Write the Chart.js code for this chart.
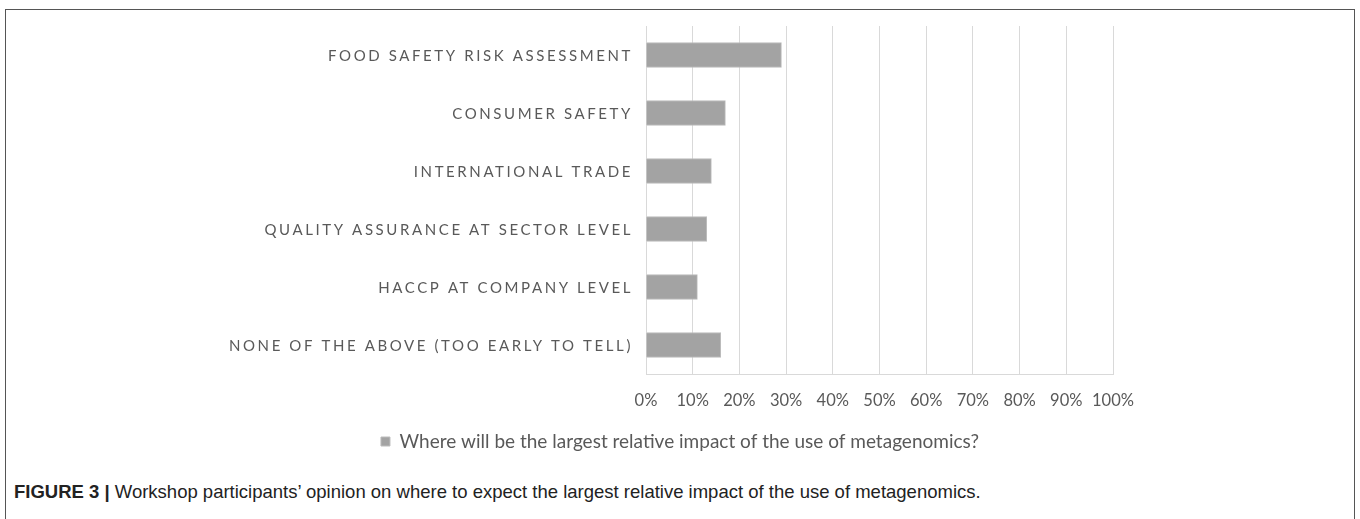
<!DOCTYPE html>
<html>
<head>
<meta charset="utf-8">
<script src="https://cdn.jsdelivr.net/npm/chart.js@4"></script>
<style>
	body { margin: 0; background: #fff; width: 1360px; height: 519px; overflow: hidden; position: relative; }
	.frame { position: absolute; left: 5px; top: 9px; width: 1348px; height: 560px; border: 1.5px solid #555; }
	.chart-wrap { position: absolute; left: 6px; top: 10px; width: 1330px; height: 460px; }
	.caption { position: absolute; left: 14px; top: 481px; font-family: 'Liberation Sans', Arial, sans-serif; font-size: 18.5px; color: #222; white-space: nowrap; }
	.caption b { font-weight: 700; }
</style>
</head>
<body>
<div class="frame"></div>
<div class="chart-wrap"><canvas id="impactChart" width="1330" height="460"></canvas></div>
<div class="caption"><b>FIGURE 3 |</b> Workshop participants’ opinion on where to expect the largest relative impact of the use of metagenomics.</div>
<script>
// ===== DATA =====
const categories = [
	'FOOD SAFETY RISK ASSESSMENT',
	'CONSUMER SAFETY',
	'INTERNATIONAL TRADE',
	'QUALITY ASSURANCE AT SECTOR LEVEL',
	'HACCP AT COMPANY LEVEL',
	'NONE OF THE ABOVE (TOO EARLY TO TELL)'
];
const impactValues = [29, 17, 14, 13, 11, 16];
const seriesName = 'Where will be the largest relative impact of the use of metagenomics?';
const tickValues = [0, 10, 20, 30, 40, 50, 60, 70, 80, 90, 100];

const textGray = '#595959';
const fontFamily = 'Lato, "Open Sans", sans-serif';

// draw the category labels with letter spacing (canvas ticks can't do it)
const spacedLabels = {
	id: 'spacedLabels',
	afterDraw(chart) {
		const ctx = chart.ctx;
		const yScale = chart.scales.y;
		ctx.save();
		ctx.font = '15px ' + fontFamily;
		ctx.fillStyle = textGray;
		ctx.textAlign = 'right';
		ctx.textBaseline = 'middle';
		ctx.letterSpacing = '2.6px';
		categories.forEach((label, i) => {
			ctx.fillText(label, yScale.right - 13, yScale.getPixelForValue(i) + 1);
		});
		ctx.restore();
	}
};

const ctx = document.getElementById('impactChart').getContext('2d');

new Chart(ctx, {
	type: 'bar',
	data: {
		labels: categories,
		datasets: [{
			label: seriesName,
			data: impactValues,
			backgroundColor: '#a3a3a3',
			borderColor: '#bcbcbc',
			borderWidth: 1,
			barThickness: 25
		}]
	},
	options: {
		indexAxis: 'y',
		responsive: false,
		animation: false,
		layout: {
			padding: { top: 16, right: 223, left: 241, bottom: 9 }
		},
		plugins: {
			legend: {
				display: true,
				position: 'bottom',
				labels: {
					boxWidth: 9,
					boxHeight: 9,
					color: textGray,
					font: { size: 19, family: fontFamily },
					padding: 10
				}
			},
			tooltip: { enabled: false }
		},
		scales: {
			x: {
				min: 0,
				max: 100,
				afterBuildTicks: scale => {
					scale.ticks = tickValues.map(v => ({ value: v }));
				},
				afterFit: scale => { scale.height = 48; },
				ticks: {
					color: textGray,
					font: { size: 16.5, family: fontFamily },
					padding: 17,
					autoSkip: false,
					maxRotation: 0,
					minRotation: 0,
					callback: value => value + '%'
				},
				grid: {
					color: '#d9d9d9',
					drawTicks: false
				},
				border: { color: '#d9d9d9' }
			},
			y: {
				afterFit: scale => { scale.width = 399; },
				ticks: { display: false },
				grid: { display: false, drawTicks: false },
				border: { color: '#d9d9d9' }
			}
		}
	},
	plugins: [spacedLabels]
});
</script>
</body>
</html>
